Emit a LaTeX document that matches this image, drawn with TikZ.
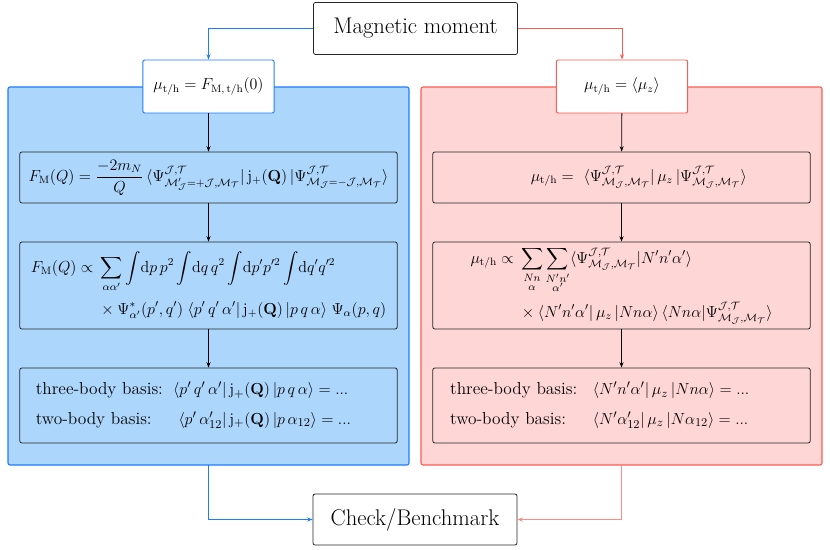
\documentclass[tikz,border=0pt]{standalone}
\usepackage{amsmath,amssymb}
\usepackage{tikz}
\usetikzlibrary{arrows.meta}

\definecolor{bluefill}{RGB}{172,214,252}
\definecolor{blueline}{RGB}{30,125,255}
\definecolor{redfill}{RGB}{255,214,214}
\definecolor{redline}{RGB}{250,92,82}
\definecolor{redpale}{RGB}{255,140,130}

\newcommand{\basislabel}[2][107pt]{\makebox[#1][l]{#2}}

\begin{document}
\begin{tikzpicture}
        [x=0.75pt,y=-0.75pt,>={Stealth[length=4pt,width=3pt]},
         bigbox/.style={draw=black!85,fill=white,rounded corners=1.5pt,line width=0.6pt,
                        minimum width=153pt,minimum height=39pt,font=\fontsize{17}{20}\selectfont},
         startbox/.style={fill=white,rounded corners=1.5pt,line width=0.7pt,
                        minimum width=98.5pt,minimum height=39.75pt,font=\fontsize{12}{14}\selectfont},
         calcbox/.style={draw=black!85,rounded corners=1.5pt,line width=0.6pt,
                        minimum width=283pt,inner sep=1pt,font=\fontsize{11.5}{14}\selectfont},
         basisbox/.style={calcbox,minimum height=56.25pt,align=left,text width=259pt,
                        inner xsep=11.5pt,font=\fontsize{13}{15}\selectfont},
         panel/.style={rounded corners=1.5pt,line width=0.8pt}]
      \useasboundingbox (0,0) rectangle (830,549);

      % coloured panels
      \draw[panel,draw=blueline,fill=bluefill] (8,87) rectangle (409,465);
      \draw[panel,draw=redline,fill=redfill]  (421,87) rectangle (822,465);

      \node[bigbox]  (mag)  at (415.5,28.5) {Magnetic moment};
      \node[bigbox,minimum height=38.25pt]  (chk)  at (415,519.5) {Check/Benchmark};

      \node[startbox,draw=blueline]  (ff0)  at (208.5,86.5)
            {$\mu_{\mathrm{t/h}} = F_{\mathrm{M,\,t/h}}(0)$};
      \node[startbox,draw=redline]   (muz)  at (622,86.5)
            {$\mu_{\mathrm{t/h}} = \langle \mu_z \rangle$};

      % left column: form factor
      \node[calcbox,minimum height=38.25pt,font=\fontsize{11.8}{14}\selectfont]  (L1)  at (208.5,177.5)
            {$F_{\mathrm{M}}(Q) = \dfrac{-2m_N}{Q}\,
              \langle\Psi^{\mathcal{J},\mathcal{T}}_{\mathcal{M}'_{\mathcal{J}}=+\mathcal{J},\mathcal{M}_{\mathcal{T}}}|\,
              \mathrm{j}_{+}(\mathbf{Q})\,
              |\Psi^{\mathcal{J},\mathcal{T}}_{\mathcal{M}_{\mathcal{J}}=-\mathcal{J},\mathcal{M}_{\mathcal{T}}}\rangle$};
      \node[calcbox,minimum height=65.25pt]  (L2)  at (208.5,285.5)
            {$\begin{aligned}
              F_{\mathrm{M}}(Q) \propto {}& \sum_{\alpha\alpha'}\int\!\mathrm{d}p\,p^2\int\!\mathrm{d}q\,q^2
                \int\!\mathrm{d}p'p'^2\int\!\mathrm{d}q'q'^2\\[3pt]
              & \times\Psi^{*}_{\alpha'}(p',q')\;\langle p'\,q'\,\alpha'|\,\mathrm{j}_{+}(\mathbf{Q})\,|p\,q\,\alpha\rangle\;
                \Psi_{\alpha}(p,q)
              \end{aligned}$};
      \node[basisbox]  (L3)  at (208.5,405.5)
            {\basislabel[103pt]{three-body basis:}$\langle p'\,q'\,\alpha'|\,\mathrm{j}_{+}(\mathbf{Q})\,|p\,q\,\alpha\rangle = ...$\\[7pt]
             \basislabel{two-body basis:}$\langle p'\,\alpha'_{12}|\,\mathrm{j}_{+}(\mathbf{Q})\,|p\,\alpha_{12}\rangle = ...$};

      % right column: expectation value
      \node[calcbox,minimum height=38.25pt,font=\fontsize{12}{14}\selectfont]  (R1)  at (621.5,177.5)
            {\hspace*{26pt}$\mu_{\mathrm{t/h}} =\ \langle\Psi^{\mathcal{J},\mathcal{T}}_{\mathcal{M}_{\mathcal{J}},\mathcal{M}_{\mathcal{T}}}|\,
              \mu_z\,|\Psi^{\mathcal{J},\mathcal{T}}_{\mathcal{M}_{\mathcal{J}},\mathcal{M}_{\mathcal{T}}}\rangle$};
      \node[calcbox,minimum height=65.25pt]  (R2)  at (621.5,285.5)
            {$\begin{aligned}
              \mu_{\mathrm{t/h}} \propto {}& \sum_{\substack{Nn\\ \alpha}}\sum_{\substack{N'n'\\ \alpha'}}
                \langle\Psi^{\mathcal{J},\mathcal{T}}_{\mathcal{M}_{\mathcal{J}},\mathcal{M}_{\mathcal{T}}}|N'n'\alpha'\rangle\\[3pt]
              & \times\langle N'n'\alpha'|\,\mu_z\,|Nn\alpha\rangle\,
                \langle Nn\alpha|\Psi^{\mathcal{J},\mathcal{T}}_{\mathcal{M}_{\mathcal{J}},\mathcal{M}_{\mathcal{T}}}\rangle
              \end{aligned}$};
      \node[basisbox,inner xsep=12.5pt,text width=257pt]  (R3)  at (621.5,405.5)
            {\basislabel{three-body basis:}$\langle N'n'\alpha'|\,\mu_z\,|Nn\alpha\rangle = ...$\\[7pt]
             \basislabel{two-body basis:}$\langle N'\alpha'_{12}|\,\mu_z\,|N\alpha_{12}\rangle = ...$};

      \coordinate (bout) at (208.5,465);
      \coordinate (rout) at (621.5,465);

      \path [->,line width=0.6pt]
            (mag.west) edge [blueline,to path={-| (\tikztotarget)}] (ff0.north)
            (mag.east) edge [redline,to path={-| (\tikztotarget)}]  (muz.north)
            (ff0) edge (L1)  (L1) edge (L2)  (L2) edge (L3)
            (muz) edge (R1)  (R1) edge (R2)  (R2) edge (R3)
            (bout) edge [blueline,to path={|- (\tikztotarget)}] (chk.west)
            (rout) edge [redpale,line width=0.7pt,to path={|- (\tikztotarget)}] (chk.east);
      \end{tikzpicture}
\end{document}
